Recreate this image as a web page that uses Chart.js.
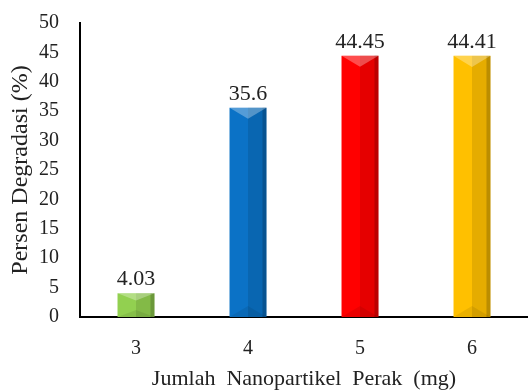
<!DOCTYPE html>
<html>
<head>
<meta charset="utf-8">
<script src="https://cdn.jsdelivr.net/npm/chart.js@4"></script>
<style>
  html, body { margin: 0; padding: 0; background: #fff; }
  #wrap { width: 528px; height: 392px; }
</style>
</head>
<body>
<div id="wrap"><canvas id="c" width="528" height="392"></canvas></div>
<script>
const categories = ["3", "4", "5", "6"];
const degradasi = [4.03, 35.6, 44.45, 44.41];
const barColors = ["#92D050", "#0B72C6", "#FF0000", "#FFC000"];
const yTicks = [0, 5, 10, 15, 20, 25, 30, 35, 40, 45, 50];

const serif = "'Liberation Serif', 'Times New Roman', serif";

// bevel look + value labels on top of the bars
const barExtras = {
  id: "barExtras",
  afterDatasetsDraw(chart) {
    const ctx = chart.ctx;
    const meta = chart.getDatasetMeta(0);
    meta.data.forEach((bar, i) => {
      const p = bar.getProps(["x", "y", "base", "width"], true);
      const l = p.x - p.width / 2, r = p.x + p.width / 2;
      const t = p.y, b = p.base;
      const h = b - t;
      const tri = Math.min(p.width / 2, h / 2) * 0.6;
      ctx.save();
      // right half darker
      ctx.fillStyle = "rgba(0,0,0,0.10)";
      ctx.fillRect(p.x, t, r - p.x, h);
      // right edge shade
      ctx.fillStyle = "rgba(0,0,0,0.18)";
      ctx.fillRect(r - 4, t, 4, h);
      // top bevel triangle
      ctx.fillStyle = "rgba(255,255,255,0.30)";
      ctx.beginPath();
      ctx.moveTo(l, t);
      ctx.lineTo(r, t);
      ctx.lineTo(p.x, t + tri);
      ctx.closePath();
      ctx.fill();
      // bottom bevel
      ctx.fillStyle = "rgba(0,0,0,0.08)";
      ctx.beginPath();
      ctx.moveTo(l, b);
      ctx.lineTo(r, b);
      ctx.lineTo(p.x, b - tri);
      ctx.closePath();
      ctx.fill();
      ctx.restore();

      ctx.save();
      ctx.font = "22px " + serif;
      ctx.fillStyle = "#222";
      ctx.textAlign = "center";
      ctx.textBaseline = "alphabetic";
      ctx.fillText(String(degradasi[i]), p.x, t - 8);
      ctx.restore();
    });
  }
};

new Chart(document.getElementById("c"), {
  type: "bar",
  data: {
    labels: categories,
    datasets: [{
      label: "Persen Degradasi",
      data: degradasi,
      backgroundColor: barColors,
      borderWidth: 0,
      barPercentage: 0.66,
      categoryPercentage: 0.5
    }]
  },
  options: {
    responsive: false,
    animation: false,
    layout: { padding: { top: 23, right: 0, bottom: 0, left: 0 } },
    plugins: { legend: { display: false }, tooltip: { enabled: false } },
    scales: {
      x: {
        grid: { display: false, drawTicks: false },
        border: { color: "#000", width: 2 },
        ticks: { color: "#222", padding: 20, font: { family: serif, size: 20 } },
        title: {
          display: true,
          text: "Jumlah  Nanopartikel  Perak  (mg)",
          color: "#222",
          padding: { top: 0, bottom: 0 },
          font: { family: serif, size: 22 }
        },
        afterFit(scale) {
          scale.height = 75;
          scale.paddingLeft = 0;
          scale.paddingRight = 0;
        }
      },
      y: {
        min: 0,
        max: 50,
        afterBuildTicks(scale) { scale.ticks = yTicks.map(v => ({ value: v })); },
        grid: { display: false, drawTicks: false },
        border: { color: "#000", width: 2 },
        ticks: { color: "#222", padding: 21, font: { family: serif, size: 20 } },
        title: {
          display: true,
          text: "Persen Degradasi (%)",
          color: "#222",
          padding: { top: 6, bottom: 0 },
          font: { family: serif, size: 24 }
        },
        afterFit(scale) {
          scale.width = 80;
          scale.paddingTop = 0;
          scale.paddingBottom = 0;
        }
      }
    }
  },
  plugins: [barExtras]
});
</script>
</body>
</html>
